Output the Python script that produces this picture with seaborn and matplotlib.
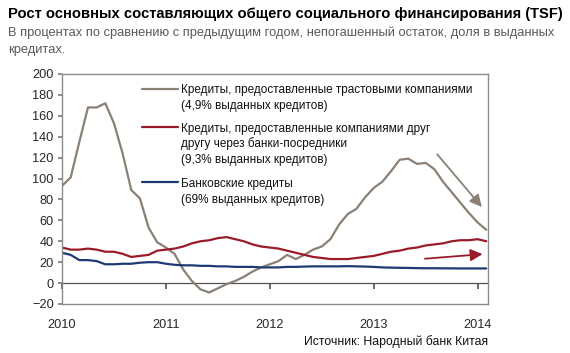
import numpy as np
import pandas as pd
import seaborn as sns
import matplotlib.pyplot as plt
from matplotlib.lines import Line2D

# monthly data, Jan 2010 .. Feb 2014 (y/y %, outstanding)
trust = [93, 101, 135, 168, 168, 172, 153, 124, 89, 81, 53, 39, 34,
         28, 13, 2, -6, -9, -5, -1, 2, 6, 11, 15, 18,
         21, 27, 23, 27, 32, 35, 42, 56, 66, 71, 82, 91,
         97, 107, 118, 119, 114, 115, 109, 97, 87, 77, 67, 58, 51]
entrusted = [34, 32, 32, 33, 32, 30, 30, 28, 25, 26, 27, 31, 32,
             33, 35, 38, 40, 41, 43, 44, 42, 40, 37, 35, 34,
             33, 31, 29, 27, 25, 24, 23, 23, 23, 24, 25, 26,
             28, 30, 31, 33, 34, 36, 37, 38, 40, 41, 41, 42, 40]
bank = [29, 27, 22, 22, 21, 18, 18, 18.5, 18.5, 19.5, 20, 20, 18.5,
        17.5, 17, 17, 16.5, 16.5, 16, 16, 15.5, 15.5, 15.5, 15, 15,
        15, 15.5, 15.5, 15.8, 16, 16, 16, 16, 16.2, 16, 15.8, 15.5,
        15, 14.8, 14.6, 14.5, 14.3, 14.2, 14.2, 14.1, 14.1, 14, 14, 14, 14]

months = np.arange(len(trust))
year_pos = 2010 + months / 12.0
year_ticks = [2010, 2011, 2012, 2013, 2014]

labels = ["Кредиты, предоставленные трастовыми компаниями\n(4,9% выданных кредитов)",
          "Кредиты, предоставленные компаниями друг\nдругу через банки-посредники\n(9,3% выданных кредитов)",
          "Банковские кредиты\n(69% выданных кредитов)"]
colors = ["#8a8075", "#9a1c2a", "#1f3a73"]

df = pd.DataFrame({"x": year_pos, "trust": trust, "entrusted": entrusted, "bank": bank})
long = df.melt(id_vars="x", var_name="series", value_name="v")

sns.set_theme(style="white")
plt.rcParams['font.family'] = ['Liberation Sans', 'DejaVu Sans']

W, H = 570, 353
fig = plt.figure(figsize=(W / 100, H / 100), dpi=100)
ax = fig.add_axes([62 / W, 1 - 304 / H, (488 - 62) / W, (304 - 74) / H])

def px(x, y):
    return x / W, 1 - y / H

sns.lineplot(data=long, x="x", y="v", hue="series", hue_order=["trust", "entrusted", "bank"],
             palette=colors, linewidth=1.6, legend=False, ax=ax)

ax.set_xlim(2010, 2010 + 49.2 / 12)
ax.set_ylim(-20, 200)
ax.set_yticks(range(-20, 201, 20))
ax.set_xticks(year_ticks)
ax.set_xticklabels([str(y) for y in year_ticks])
ax.set_xlabel("")
ax.set_ylabel("")
ax.tick_params(axis="y", length=3, direction="out", left=True, labelsize=9.2, pad=3, color="#808080")
ax.tick_params(axis="x", length=0, labelsize=9.2, pad=11)
for s in ax.spines.values():
    s.set_color("#8c8c8c")
    s.set_linewidth(1.0)

# zero line with year ticks
sec = ax.secondary_xaxis(20 / 220)
sec.set_xticks(year_ticks)
sec.tick_params(axis="x", length=4, direction="out", labelbottom=False, color="#555555")
sec.spines["bottom"].set_color("#555555")
sec.spines["bottom"].set_linewidth(0.9)

# arrows
ax.annotate("", xy=(2014.058, 70.7), xytext=(2013.594, 125.2),
            arrowprops=dict(arrowstyle="-|>", color=colors[0], lw=1.3, mutation_scale=18))
ax.annotate("", xy=(2014.074, 27.9), xytext=(2013.466, 23.1),
            arrowprops=dict(arrowstyle="-|>", color=colors[1], lw=1.3, mutation_scale=18))

# legend (drawn by hand to keep the sample on the first line)
leg_y = [88.5, 127, 182]
line_gap = 15.5
for lab, c, y in zip(labels, colors, leg_y):
    x0, yy = px(142, y)
    x1, _ = px(178, y)
    fig.add_artist(Line2D([x0, x1], [yy, yy], color=c, lw=1.6, transform=fig.transFigure))
    for i, part in enumerate(lab.split("\n")):
        tx, ty = px(181, y + 5 + i * line_gap)
        fig.text(tx, ty, part, fontsize=8.5, va="baseline", ha="left", color="#111111")

fig.text(*px(8, 18), "Рост основных составляющих общего социального финансирования (TSF)",
         fontsize=10.65, fontweight="bold", va="baseline", ha="left", color="#000000")
fig.text(*px(8, 36), "В процентах по сравнению с предыдущим годом, непогашенный остаток, доля в выданных",
         fontsize=9.3, va="baseline", ha="left", color="#5a5a5a")
fig.text(*px(8, 53), "кредитах.", fontsize=9.3, va="baseline", ha="left", color="#5a5a5a")
fig.text(*px(488, 345), "Источник: Народный банк Китая", fontsize=8.8, va="baseline", ha="right",
         color="#111111")

fig.savefig("out.png", dpi=100)
